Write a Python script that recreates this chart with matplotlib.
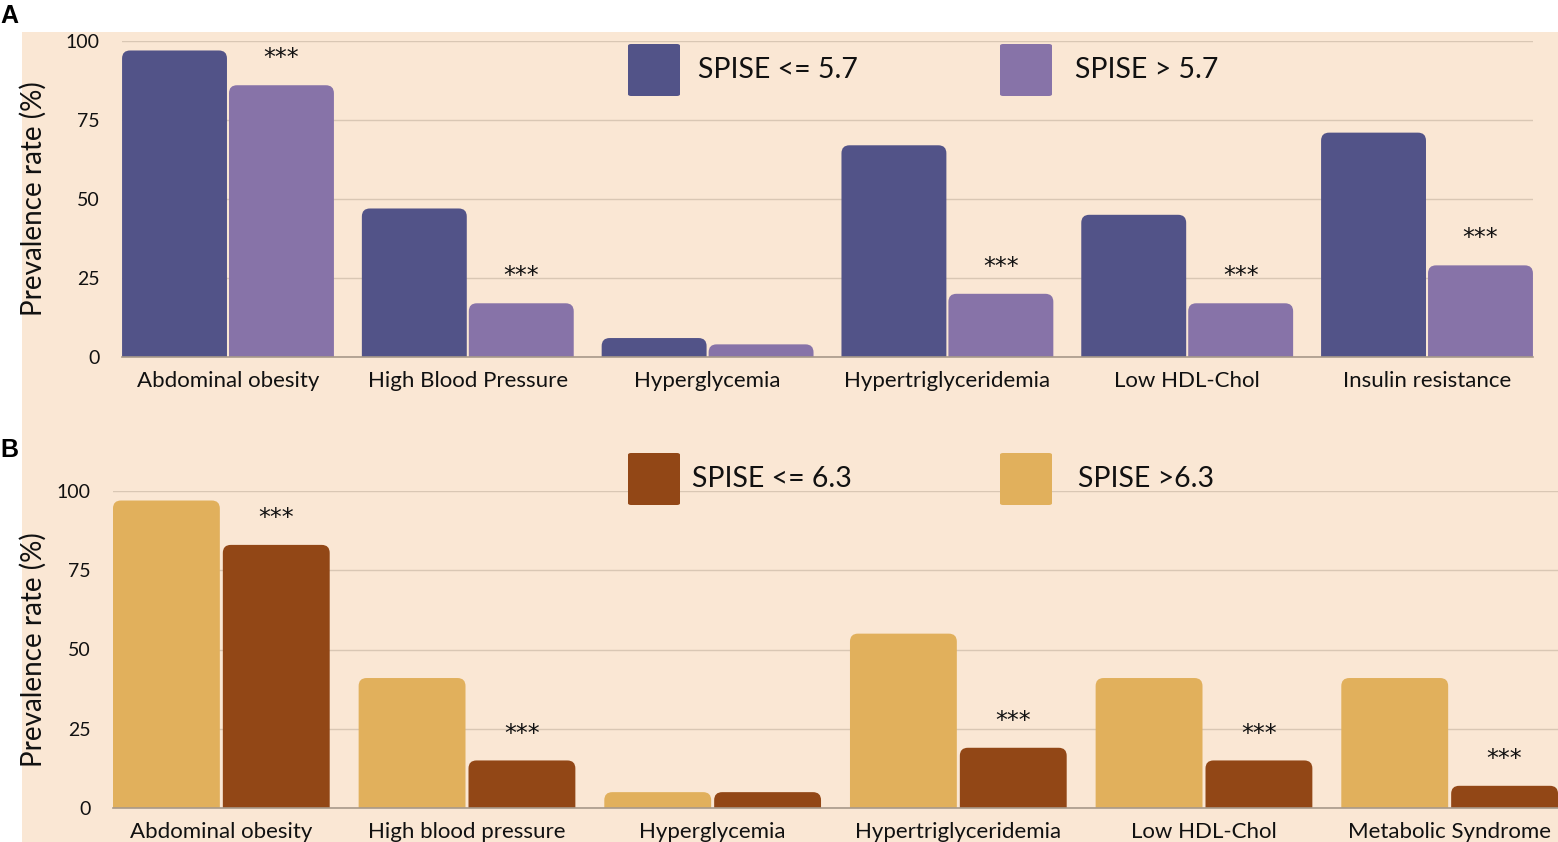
import matplotlib
matplotlib.use("Agg")
import matplotlib.pyplot as plt
from matplotlib.patches import FancyBboxPatch, Rectangle
import numpy as np

# ---------------- data ----------------
cats_a = ["Abdominal obesity", "High Blood Pressure", "Hyperglycemia",
          "Hypertriglyceridemia", "Low HDL-Chol", "Insulin resistance"]
series_a = ["SPISE <= 5.7", "SPISE > 5.7"]
vals_a1 = [97, 47, 6, 67, 45, 71]
vals_a2 = [86, 17, 4, 20, 17, 29]
sig_a = ["***", "***", "", "***", "***", "***"]

cats_b = ["Abdominal obesity", "High blood pressure", "Hyperglycemia",
          "Hypertriglyceridemia", "Low HDL-Chol", "Metabolic Syndrome"]
series_b = ["SPISE <= 6.3", "SPISE >6.3"]
vals_b_light = [97, 41, 5, 55, 41, 41]   # SPISE >6.3 (drawn first)
vals_b_dark = [83, 15, 5, 19, 15, 7]     # SPISE <= 6.3
sig_b = ["***", "***", "", "***", "***", "***"]

yticks = [0, 25, 50, 75, 100]

# ---------------- style ----------------
BG = "#FAE7D4"
PURPLE_D = "#525388"
PURPLE_L = "#8773A8"
BROWN = "#924716"
GOLD = "#E1B05C"
GRID = "#D9C7B4"
FONT = "Lato"

W, H = 1558, 842
fig = plt.figure(figsize=(W / 100, H / 100), dpi=100)
fig.patch.set_facecolor("white")
# peach background region
fig.patches.append(Rectangle((22 / W, 0), 1 - 22 / W, (H - 32) / H,
                             transform=fig.transFigure, facecolor=BG,
                             edgecolor="none", zorder=-10))


def px_axes(left, right, top, bottom):
    return fig.add_axes([left / W, (H - bottom) / H, (right - left) / W, (bottom - top) / H])


def round_bars(ax, bars, rpx=8):
    fig.canvas.draw()
    p0 = ax.transData.transform((0, 0))
    p1 = ax.transData.transform((1, 1))
    xpu = p1[0] - p0[0]
    ypu = p1[1] - p0[1]
    rx = rpx / xpu
    ry = rpx / ypu
    for b in bars:
        x, y = b.get_x(), b.get_y()
        w, h = b.get_width(), b.get_height()
        fb = FancyBboxPatch((x, y - ry * 2), w, h + ry * 2,
                            boxstyle=f"round,pad=0,rounding_size={rx}",
                            mutation_aspect=ry / rx,
                            facecolor=b.get_facecolor(), edgecolor="none",
                            zorder=3, clip_on=True)
        ax.add_patch(fb)
        b.set_visible(False)


def panel(ax, cats, v1, v2, c1, c2, sig, off, width, xlim, sigvals):
    x = np.arange(len(cats))
    ax.set_facecolor("none")
    b1 = ax.bar(x - off, v1, width, color=c1, zorder=3)
    b2 = ax.bar(x + off, v2, width, color=c2, zorder=3)
    ax.set_xlim(*xlim)
    ax.set_ylim(0, 100)
    ax.set_yticks(yticks)
    ax.set_yticklabels([str(t) for t in yticks], fontsize=14, family=FONT)
    ax.set_xticks(x)
    ax.set_xticklabels(cats, fontsize=16, family=FONT)
    ax.tick_params(axis="both", length=0, colors="#111111")
    ax.tick_params(axis="x", pad=10)
    ax.tick_params(axis="y", pad=16)
    ax.yaxis.grid(True, color=GRID, lw=1.0, zorder=0)
    ax.set_axisbelow(True)
    for s in ["top", "right", "left"]:
        ax.spines[s].set_visible(False)
    ax.spines["bottom"].set_color("#A8998A")
    ax.spines["bottom"].set_linewidth(1.2)
    ax.spines["bottom"].set_zorder(4)
    for xi, v, s in zip(x, sigvals, sig):
        if s:
            ax.text(xi + off, v + 8.5, s, ha="center", va="center", fontsize=17,
                    family="DejaVu Sans", color="#111111", zorder=5)
    ax.set_ylabel("Prevalence rate (%)", fontsize=20, family=FONT, color="#111111")
    return list(b1) + list(b2)


# Panel A
axA = px_axes(122, 1533, 41, 357)
barsA = panel(axA, cats_a, vals_a1, vals_a2, PURPLE_D, PURPLE_L, sig_a,
              0.223, 0.4375, (-0.442, 5.442), vals_a2)
axA.yaxis.set_label_coords((47 - 122) / 1411, 0.5)

# Panel B
axB = px_axes(113, 1558, 491, 808)
barsB = panel(axB, cats_b, vals_b_light, vals_b_dark, GOLD, BROWN, sig_b,
              0.2236, 0.435, (-0.441, 5.441), vals_b_dark)
axB.yaxis.set_label_coords((47 - 113) / 1445, 0.5)

round_bars(axA, barsA)
round_bars(axB, barsB)


# legends (manual)
def legend_item(xs, ytop, color, label, xt):
    sq = FancyBboxPatch((xs / W, (H - ytop - 52) / H), 52 / W, 52 / H,
                        boxstyle="round,pad=0,rounding_size=0.002",
                        transform=fig.transFigure, facecolor=color,
                        edgecolor="none", zorder=5)
    fig.patches.append(sq)
    fig.text(xt / W, (H - ytop - 26) / H, label, ha="left", va="center",
             fontsize=20.5, family=FONT, color="#111111")


legend_item(628, 44, PURPLE_D, series_a[0], 698)
legend_item(1000, 44, PURPLE_L, series_a[1], 1075)
legend_item(628, 453, BROWN, series_b[0], 692)
legend_item(1000, 453, GOLD, series_b[1], 1078)

# panel letters
fig.text(0 / W, (H - 16) / H, "A", fontsize=18, fontweight="bold",
         family="Liberation Sans", va="center", ha="left")
fig.text(0 / W, (H - 450) / H, "B", fontsize=18, fontweight="bold",
         family="Liberation Sans", va="center", ha="left")

fig.savefig("out.png", dpi=100, facecolor=fig.get_facecolor())
